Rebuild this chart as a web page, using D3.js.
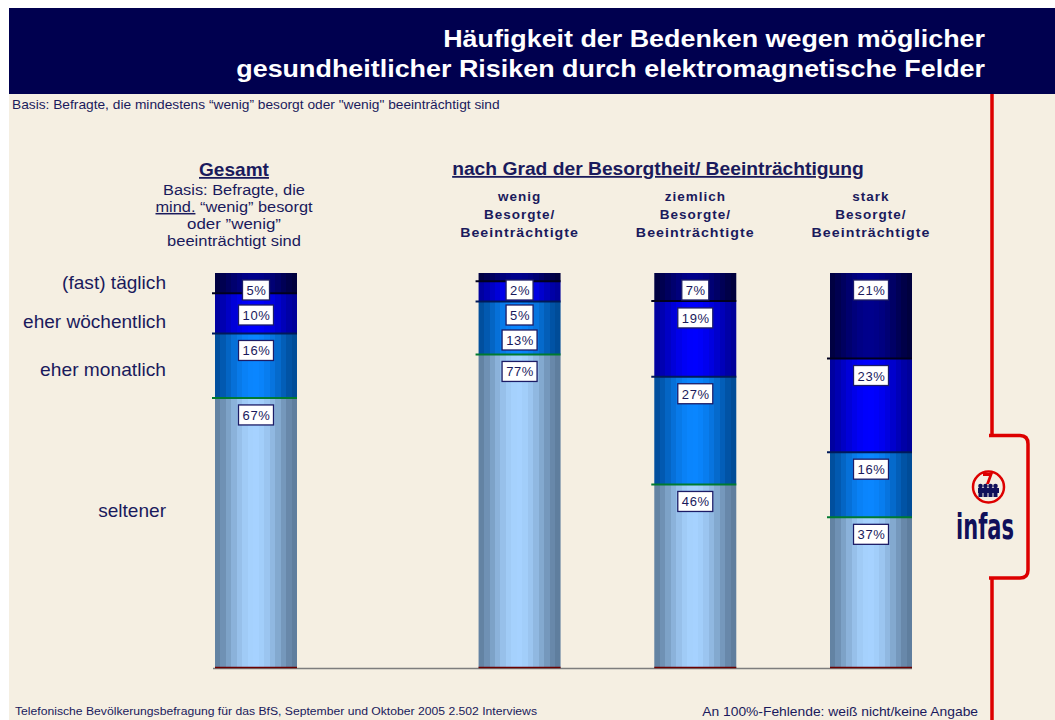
<!DOCTYPE html>
<html>
<head>
<meta charset="utf-8">
<script src="https://cdn.jsdelivr.net/npm/d3@7"></script>
<style>
  html, body { margin: 0; padding: 0; background: #ffffff; }
  svg { display: block; font-family: "Liberation Sans", Arial, sans-serif; }
</style>
</head>
<body>
<svg id="chart" width="1055" height="720"></svg>
<script>
// ---------------- data ----------------
const categories = ["Gesamt", "wenig", "ziemlich", "stark"];
const seriesNames = ["seltener", "eher monatlich", "eher wöchentlich", "(fast) täglich"];
const seltener     = [67, 77, 46, 37];
const monatlich    = [16, 13, 27, 16];
const woechentlich = [10, 5, 19, 23];
const taeglich     = [5, 2, 7, 21];
const groupHeaderLines = [
  ["wenig", "Besorgte/", "Beeinträchtigte"],
  ["ziemlich", "Besorgte/", "Beeinträchtigte"],
  ["stark", "Besorgte/", "Beeinträchtigte"]
];
const titleLines = [
  "Häufigkeit der Bedenken wegen möglicher",
  "gesundheitlicher Risiken durch elektromagnetische Felder"
];

// ---------------- styles ----------------
const NAVY_TEXT = "#1a1a5c";
const seriesEdge   = ["#5f7e9e", "#004c98", "#00009a", "#00003e"];
const seriesCenter = ["#a6d2ff", "#0a86ff", "#0000ff", "#00008c"];
const boundaryColor = ["#6b0000", "#007a30", "#001a5a", "#00001e"];

const svg = d3.select("#chart");

// helper: text placed at (x,y), horizontally fitted to a target width
function fitText(parent, opts) {
  const t = parent.append("text")
    .attr("x", 0).attr("y", 0)
    .attr("text-anchor", opts.anchor || "start")
    .attr("font-size", opts.size)
    .attr("font-weight", opts.weight || "normal")
    .attr("fill", opts.fill || NAVY_TEXT);
  if (opts.family) t.attr("font-family", opts.family);
  if (opts.ls) t.attr("letter-spacing", opts.ls);
  if (opts.underline) t.attr("text-decoration", "underline");
  if (opts.build) opts.build(t); else t.text(opts.text);
  let s = 1;
  if (opts.width) {
    const bw = t.node().getBBox().width;
    if (bw > 0) s = opts.width / bw;
  }
  t.attr("transform", `translate(${opts.x},${opts.y}) scale(${s},1)`);
  return t;
}

// background
svg.append("rect").attr("x", 9).attr("y", 8).attr("width", 1046).attr("height", 712).attr("fill", "#f5efe2");
svg.append("rect").attr("x", 9).attr("y", 8).attr("width", 1046).attr("height", 86).attr("fill", "#00004f");

// title
fitText(svg, { x: 985, y: 47, anchor: "end", size: 23.5, weight: "bold", fill: "#ffffff", width: 542, text: titleLines[0] });
fitText(svg, { x: 985, y: 77, anchor: "end", size: 23.5, weight: "bold", fill: "#ffffff", width: 749, text: titleLines[1] });

fitText(svg, { x: 12, y: 108.5, size: 12, width: 488,
  text: "Basis: Befragte, die mindestens \u201Cwenig\u201D besorgt oder \"wenig\" beeinträchtigt sind" });

// ---------------- scales ----------------
const slot = i => (i === 0 ? 0 : i + 0.5);
const x = d3.scaleLinear().domain([0, 3.5]).range([256, 871]);
const barW = 82;
const y = d3.scaleLinear().domain([0, 1]).range([668, 273]);

const rows = categories.map((c, i) => ({
  cat: c, idx: i,
  "seltener": seltener[i],
  "eher monatlich": monatlich[i],
  "eher wöchentlich": woechentlich[i],
  "(fast) täglich": taeglich[i]
}));
const stack = d3.stack().keys(seriesNames).offset(d3.stackOffsetExpand);
const series = stack(rows);

// gradients (banded, cylinder-like)
const defs = svg.append("defs");
const N = 15;
seriesNames.forEach((s, si) => {
  const g = defs.append("linearGradient").attr("id", "grad" + si)
    .attr("x1", 0).attr("x2", 1).attr("y1", 0).attr("y2", 0);
  const interp = d3.interpolateRgb(seriesEdge[si], seriesCenter[si]);
  for (let k = 0; k < N; k++) {
    const t = (k + 0.5) / N;
    const sh = Math.pow(Math.sin(Math.PI * Math.min(1, t * 1.04)), 1.3);
    const c = interp(sh);
    g.append("stop").attr("offset", k / N).attr("stop-color", c);
    g.append("stop").attr("offset", (k + 1) / N).attr("stop-color", c);
  }
});

// axis baseline
svg.append("line")
  .attr("x1", x(slot(0)) - barW / 2 - 2).attr("x2", x(slot(3)) + barW / 2)
  .attr("y1", y(0) + 0.5).attr("y2", y(0) + 0.5)
  .attr("stroke", "#7d7d7d").attr("stroke-width", 1.5);

// bars
const gBars = svg.append("g");
series.forEach((ser, si) => {
  gBars.append("g").selectAll("rect").data(ser).join("rect")
    .attr("x", d => x(slot(d.data.idx)) - barW / 2)
    .attr("width", barW)
    .attr("y", d => y(d[1]))
    .attr("height", d => y(d[0]) - y(d[1]))
    .attr("fill", "url(#grad" + si + ")");
});
// boundary lines (bottom of each segment)
series.forEach((ser, si) => {
  gBars.append("g").selectAll("line").data(ser).join("line")
    .attr("x1", d => x(slot(d.data.idx)) - barW / 2 - (si === 0 ? 0 : 3))
    .attr("x2", d => x(slot(d.data.idx)) + barW / 2)
    .attr("y1", d => y(d[0]) - (si === 0 ? 0.5 : 0))
    .attr("y2", d => y(d[0]) - (si === 0 ? 0.5 : 0))
    .attr("stroke", boundaryColor[si]).attr("stroke-width", si === 0 ? 1.5 : 2);
});

// value labels
const gLab = svg.append("g");
const valueArrays = [seltener, monatlich, woechentlich, taeglich];
categories.forEach((c, ci) => {
  let prevBottom = -Infinity;
  for (let si = seriesNames.length - 1; si >= 0; si--) {
    const d = series[si][ci];
    const txt = valueArrays[si][ci] + "%";
    const bw = txt.length === 2 ? 27 : 35;
    const bh = 20;
    const top = Math.max(y(d[1]) + 7, prevBottom + 5);
    prevBottom = top + bh;
    const cx = x(slot(ci));
    gLab.append("rect").attr("x", cx - bw / 2).attr("y", top).attr("width", bw).attr("height", bh)
      .attr("fill", "#ffffff").attr("stroke", "#1c1c66").attr("stroke-width", 1.3);
    gLab.append("text").attr("x", cx + 0.5).attr("y", top + 15).attr("text-anchor", "middle")
      .attr("font-size", 13).attr("letter-spacing", 0.6).attr("fill", NAVY_TEXT).text(txt);
  }
});

// series labels on the left (aligned to Gesamt segments)
const legendNudge = [-22, 4, 9, 0];
const legendWidth = [68, 126, 143, 104];
seriesNames.forEach((s, si) => {
  const d = series[si][0];
  const mid = (y(d[0]) + y(d[1])) / 2;
  fitText(svg, { x: 166, y: mid + legendNudge[si] + 6, anchor: "end", size: 17.5, width: legendWidth[si], text: s });
});

// Gesamt header
const gx = 234;
fitText(svg, { x: gx, y: 176, anchor: "middle", size: 18, weight: "bold", underline: true, width: 70, text: "Gesamt" });
fitText(svg, { x: gx, y: 195, anchor: "middle", size: 15, width: 142, text: "Basis: Befragte, die" });
fitText(svg, { x: gx, y: 212, anchor: "middle", size: 15, width: 158, build: t => {
  t.append("tspan").attr("text-decoration", "underline").text("mind.");
  t.append("tspan").text(" \u201Cwenig\u201D besorgt");
}});
fitText(svg, { x: gx, y: 229, anchor: "middle", size: 15, width: 94, text: "oder \u201Dwenig\u201D" });
fitText(svg, { x: gx, y: 246, anchor: "middle", size: 15, width: 134, text: "beeinträchtigt sind" });

// group header
fitText(svg, { x: 658, y: 175, anchor: "middle", size: 18, weight: "bold", underline: true, width: 412,
  text: "nach Grad der Besorgtheit/ Beeinträchtigung" });
groupHeaderLines.forEach((lines, gi) => {
  const cx = x(slot(gi + 1));
  lines.forEach((ln, li) => {
    fitText(svg, { x: cx, y: 201 + li * 18, anchor: "middle", size: 13.5, weight: "bold", ls: 1,
      width: li === 2 ? 119 : null, text: ln });
  });
});

// footers
fitText(svg, { x: 15, y: 715, size: 11.5, width: 523,
  text: "Telefonische Bevölkerungsbefragung für das BfS, September und Oktober 2005 2.502 Interviews" });
fitText(svg, { x: 978, y: 716, anchor: "end", size: 13, width: 276, text: "An 100%-Fehlende: weiß nicht/keine Angabe" });

// red bracket
svg.append("path")
  .attr("d", "M992,94 V435.5 H1020 Q1028,435.5 1028,444 V570 Q1028,578 1020,578 H992 V720 M989,435.5 H992 M989,578 H992")
  .attr("fill", "none").attr("stroke", "#dd0000").attr("stroke-width", 3.5);

// infas logo
const logo = svg.append("g");
logo.append("circle").attr("cx", 988.5).attr("cy", 487).attr("r", 15.5)
  .attr("fill", "none").attr("stroke", "#dd0000").attr("stroke-width", 2.5);
logo.append("path").attr("d", "M983,473 H993 L989,484 H986 L989,476 H983 Z").attr("fill", "#dd0000");
[980.5, 985.5, 990.5, 995.5].forEach(px => {
  logo.append("circle").attr("cx", px).attr("cy", 486).attr("r", 2.3).attr("fill", "#10105a");
  logo.append("rect").attr("x", px - 2).attr("y", 488).attr("width", 4).attr("height", 9).attr("fill", "#10105a");
});
logo.append("rect").attr("x", 978).attr("y", 488).attr("width", 21).attr("height", 5).attr("fill", "#10105a");
fitText(logo, { x: 956, y: 539, size: 36, weight: "bold", fill: "#10105a", width: 58,
  family: "'Liberation Sans Narrow', 'DejaVu Sans Condensed', sans-serif", text: "infas" });
</script>
</body>
</html>
